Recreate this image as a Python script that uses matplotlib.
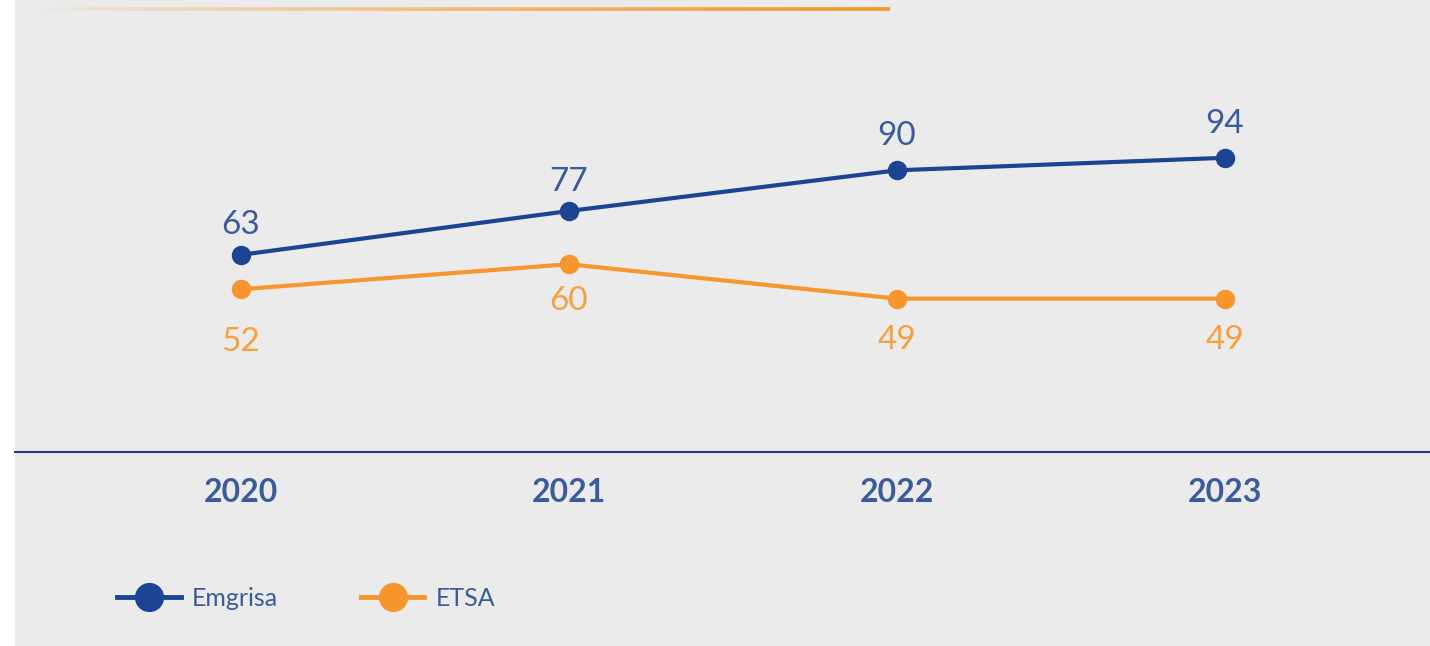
import matplotlib
matplotlib.use("Agg")
import matplotlib.pyplot as plt
import numpy as np
from matplotlib.patches import Rectangle
from matplotlib.collections import LineCollection
from matplotlib.lines import Line2D

years = ["2020", "2021", "2022", "2023"]
emgrisa = [63, 77, 90, 94]
etsa = [52, 60, 49, 49]
series_names = ["Emgrisa", "ETSA"]

# label offsets (points) relative to each marker
emgrisa_label_off = [21.6, 21.0, 24.5, 24.5]
etsa_label_off = [-38.0, -26.6, -29.5, -29.5]

BLUE = "#1b4592"
ORANGE = "#f7952f"
BLUE_TXT = "#3b5b9b"
ORANGE_TXT = "#f7a03e"
BG = "#ebebeb"

W, H = 1430, 646
fig = plt.figure(figsize=(W / 100, H / 100), dpi=100)
fig.patch.set_facecolor("white")
fig.add_artist(Rectangle((15 / W, 0), 1 - 15 / W, 1, transform=fig.transFigure,
                         facecolor=BG, edgecolor="none", zorder=0))

# top gradient decoration
xs = np.linspace(40 / W, 890 / W, 300)
segs = [[(xs[i], 1 - 9 / H), (xs[i + 1], 1 - 9 / H)] for i in range(len(xs) - 1)]
alphas = np.linspace(0.0, 1.0, len(segs)) ** 0.8
cols = [(0.969, 0.58, 0.12, a) for a in alphas]
fig.add_artist(LineCollection(segs, colors=cols, linewidths=2.6, transform=fig.transFigure))

ax = fig.add_axes([15 / W, (H - 452) / H, (W - 15) / W, 452 / H])
ax.set_facecolor("none")
x = np.arange(len(years))
ax.plot(x, emgrisa, color=BLUE, lw=3, marker="o", ms=13, zorder=3)
ax.plot(x, etsa, color=ORANGE, lw=3, marker="o", ms=13, zorder=3)

for xi, v, o in zip(x, emgrisa, emgrisa_label_off):
    ax.annotate(str(v), (xi, v), xytext=(0, o), textcoords="offset points",
                ha="center", va="center", fontsize=24, color=BLUE_TXT, family="Lato")
for xi, v, o in zip(x, etsa, etsa_label_off):
    ax.annotate(str(v), (xi, v), xytext=(0, o), textcoords="offset points",
                ha="center", va="center", fontsize=24, color=ORANGE_TXT, family="Lato")

step = 328
ax.set_xlim(-(241 - 15) / step, (W - 241) / step)
ax.set_ylim(0, 452 / 3.13)
for s in ["top", "right", "left"]:
    ax.spines[s].set_visible(False)
ax.spines["bottom"].set_color("#24388a")
ax.spines["bottom"].set_linewidth(1.5)
ax.set_yticks([])
ax.set_xticks(x)
ax.set_xticklabels(years, fontsize=23, fontweight="bold", color=BLUE_TXT, family="Lato")
ax.tick_params(axis="x", length=0, pad=19)

handles = [Line2D([], [], color=BLUE, lw=3.5, marker="o", ms=20),
           Line2D([], [], color=ORANGE, lw=3.5, marker="o", ms=20)]
leg = fig.legend(handles, series_names, loc="center left", bbox_to_anchor=(92 / W, 1 - 598 / H),
                 ncol=2, frameon=False, handlelength=2.55, columnspacing=3.3,
                 handletextpad=0.45, borderpad=0.5, prop={"family": "Lato", "size": 18})
for t in leg.get_texts():
    t.set_color(BLUE_TXT)

fig.savefig("out.png", dpi=100, facecolor=fig.get_facecolor())
